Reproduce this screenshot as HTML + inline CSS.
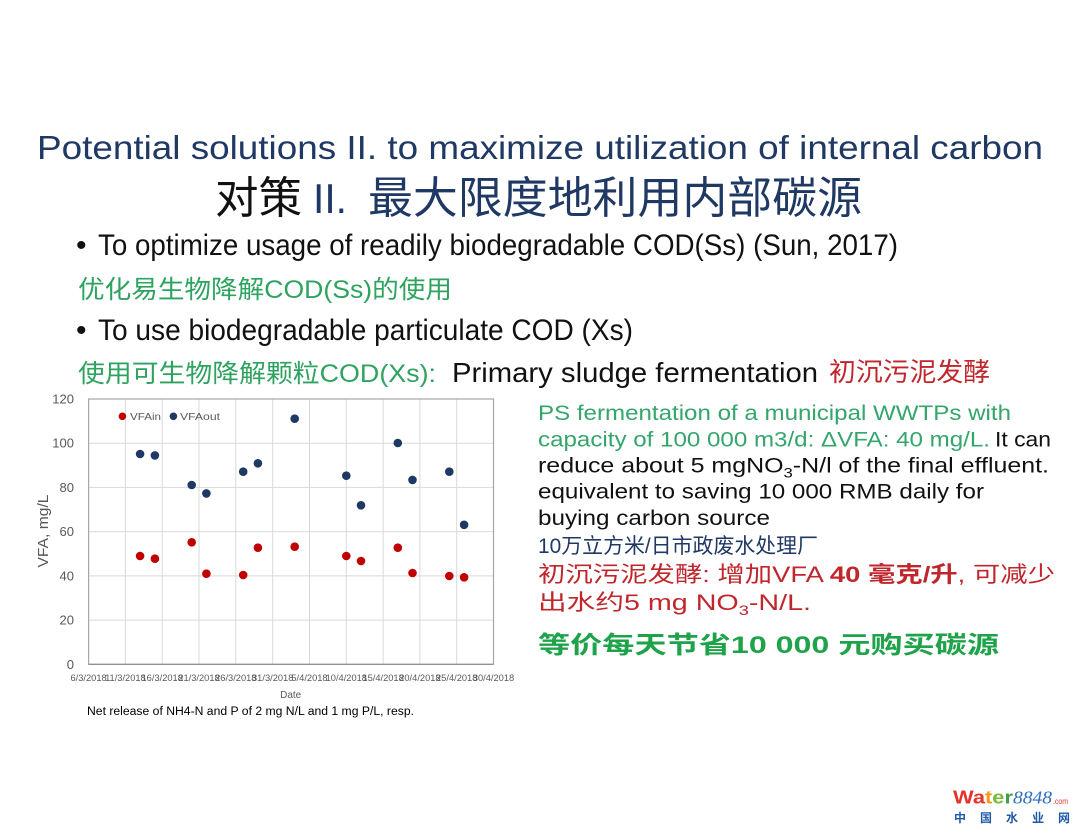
<!DOCTYPE html>
<html>
<head>
<meta charset="utf-8">
<style>
html,body{margin:0;padding:0;background:#fff;}
body{width:1080px;height:834px;overflow:hidden;}
svg{display:block;}
text{font-family:"Liberation Sans","Noto Sans CJK SC",sans-serif;}
</style>
</head>
<body>
<svg width="1080" height="834" viewBox="0 0 1080 834" xmlns="http://www.w3.org/2000/svg">
<rect x="0" y="0" width="1080" height="834" fill="#ffffff"/>

<!-- Title -->
<text x="37" y="159" font-size="33" fill="#1F3864" textLength="1006" lengthAdjust="spacingAndGlyphs">Potential solutions II. to maximize utilization of internal carbon</text>
<text x="215" y="213" font-size="44" fill="#111111" textLength="87" lengthAdjust="spacingAndGlyphs">对策</text>
<text x="313" y="213" font-size="42" fill="#1F3864" textLength="34" lengthAdjust="spacingAndGlyphs">II.</text>
<text x="368" y="213" font-size="44" fill="#1F3864" textLength="494" lengthAdjust="spacingAndGlyphs">最大限度地利用内部碳源</text>

<!-- Bullets -->
<text x="76" y="255" font-size="30" fill="#111">•</text>
<text x="98" y="255" font-size="30" fill="#111" textLength="800" lengthAdjust="spacingAndGlyphs">To optimize usage of readily biodegradable COD(Ss) (Sun, 2017)</text>
<text x="78" y="298" font-size="25" fill="#2EA35F" textLength="374" lengthAdjust="spacingAndGlyphs">优化易生物降解COD(Ss)的使用</text>
<text x="76" y="340" font-size="30" fill="#111">•</text>
<text x="98" y="340" font-size="30" fill="#111" textLength="535" lengthAdjust="spacingAndGlyphs">To use biodegradable particulate COD (Xs)</text>
<text x="78" y="382" font-size="25" fill="#2EA35F" textLength="358" lengthAdjust="spacingAndGlyphs">使用可生物降解颗粒COD(Xs):</text>
<text x="452" y="382" font-size="28" fill="#111" textLength="366" lengthAdjust="spacingAndGlyphs">Primary sludge fermentation</text>
<text x="829" y="381" font-size="26" fill="#C0272D" textLength="161" lengthAdjust="spacingAndGlyphs">初沉污泥发酵</text>

<!-- Chart gridlines -->
<g stroke="#D9D9D9" stroke-width="1">
  <line x1="88.6" y1="443.2" x2="493.5" y2="443.2"/>
  <line x1="88.6" y1="487.4" x2="493.5" y2="487.4"/>
  <line x1="88.6" y1="531.6" x2="493.5" y2="531.6"/>
  <line x1="88.6" y1="575.9" x2="493.5" y2="575.9"/>
  <line x1="88.6" y1="620.1" x2="493.5" y2="620.1"/>
  <line x1="125.4" y1="399" x2="125.4" y2="664.3"/>
  <line x1="162.2" y1="399" x2="162.2" y2="664.3"/>
  <line x1="199.0" y1="399" x2="199.0" y2="664.3"/>
  <line x1="235.8" y1="399" x2="235.8" y2="664.3"/>
  <line x1="272.7" y1="399" x2="272.7" y2="664.3"/>
  <line x1="309.5" y1="399" x2="309.5" y2="664.3"/>
  <line x1="346.3" y1="399" x2="346.3" y2="664.3"/>
  <line x1="383.1" y1="399" x2="383.1" y2="664.3"/>
  <line x1="419.9" y1="399" x2="419.9" y2="664.3"/>
  <line x1="456.7" y1="399" x2="456.7" y2="664.3"/>
</g>
<rect x="88.6" y="399" width="404.9" height="265.3" fill="none" stroke="#A6A6A6" stroke-width="1.2"/>
<line x1="88.6" y1="664.3" x2="493.5" y2="664.3" stroke="#8C8C8C" stroke-width="1.2"/>

<!-- Y ticks -->
<g font-size="13" fill="#595959" text-anchor="end">
  <text x="74" y="403.5">120</text>
  <text x="74" y="447.7">100</text>
  <text x="74" y="491.9">80</text>
  <text x="74" y="536.1">60</text>
  <text x="74" y="580.4">40</text>
  <text x="74" y="624.6">20</text>
  <text x="74" y="668.8">0</text>
</g>
<text transform="translate(48,531) rotate(-90)" font-size="15" fill="#595959" text-anchor="middle" textLength="73" lengthAdjust="spacingAndGlyphs">VFA, mg/L</text>

<!-- X ticks -->
<g font-size="9.3" fill="#595959" text-anchor="middle">
  <text x="88.6" y="681">6/3/2018</text>
  <text x="125.4" y="681">11/3/2018</text>
  <text x="162.2" y="681">16/3/2018</text>
  <text x="199.0" y="681">21/3/2018</text>
  <text x="235.8" y="681">26/3/2018</text>
  <text x="272.7" y="681">31/3/2018</text>
  <text x="309.5" y="681">5/4/2018</text>
  <text x="346.3" y="681">10/4/2018</text>
  <text x="383.1" y="681">15/4/2018</text>
  <text x="419.9" y="681">20/4/2018</text>
  <text x="456.7" y="681">25/4/2018</text>
  <text x="493.5" y="681">30/4/2018</text>
</g>
<text x="290.7" y="698" font-size="10" fill="#595959" text-anchor="middle">Date</text>
<text x="87" y="715" font-size="11.5" fill="#000" textLength="327" lengthAdjust="spacingAndGlyphs">Net release of NH4-N and P of 2 mg N/L and 1 mg P/L, resp.</text>

<!-- Legend -->
<circle cx="122.4" cy="416.3" r="3.8" fill="#C00000"/>
<text x="130" y="420" font-size="10" fill="#595959" textLength="31" lengthAdjust="spacingAndGlyphs">VFAin</text>
<circle cx="173.4" cy="416.3" r="3.8" fill="#1F3864"/>
<text x="180" y="420" font-size="10" fill="#595959" textLength="40" lengthAdjust="spacingAndGlyphs">VFAout</text>

<!-- VFAout series -->
<g fill="#1F3864">
  <circle cx="140.1" cy="454.0" r="4.3"/>
  <circle cx="154.9" cy="455.4" r="4.3"/>
  <circle cx="191.7" cy="485.0" r="4.3"/>
  <circle cx="206.4" cy="493.4" r="4.3"/>
  <circle cx="243.2" cy="471.7" r="4.3"/>
  <circle cx="257.9" cy="463.3" r="4.3"/>
  <circle cx="294.7" cy="418.7" r="4.3"/>
  <circle cx="346.3" cy="475.7" r="4.3"/>
  <circle cx="361.0" cy="505.3" r="4.3"/>
  <circle cx="397.8" cy="443.0" r="4.3"/>
  <circle cx="412.5" cy="479.9" r="4.3"/>
  <circle cx="449.3" cy="471.7" r="4.3"/>
  <circle cx="464.1" cy="524.8" r="4.3"/>
</g>
<!-- VFAin series -->
<g fill="#C00000">
  <circle cx="140.1" cy="556.0" r="4.3"/>
  <circle cx="154.9" cy="558.7" r="4.3"/>
  <circle cx="191.7" cy="542.3" r="4.3"/>
  <circle cx="206.4" cy="573.7" r="4.3"/>
  <circle cx="243.2" cy="575.0" r="4.3"/>
  <circle cx="257.9" cy="547.7" r="4.3"/>
  <circle cx="294.7" cy="546.7" r="4.3"/>
  <circle cx="346.3" cy="556.0" r="4.3"/>
  <circle cx="361.0" cy="561.0" r="4.3"/>
  <circle cx="397.8" cy="547.7" r="4.3"/>
  <circle cx="412.5" cy="573.0" r="4.3"/>
  <circle cx="449.3" cy="576.0" r="4.3"/>
  <circle cx="464.1" cy="577.3" r="4.3"/>
</g>

<!-- Right text block -->
<text x="538" y="420" font-size="21" fill="#34A56B" textLength="473" lengthAdjust="spacingAndGlyphs">PS fermentation of a municipal WWTPs with</text>
<text x="538" y="446.5" font-size="21" fill="#34A56B" textLength="452" lengthAdjust="spacingAndGlyphs">capacity of 100 000 m3/d: ΔVFA: 40 mg/L.</text>
<text x="995" y="446.5" font-size="21" fill="#111" textLength="56" lengthAdjust="spacingAndGlyphs">It can</text>
<text x="538" y="472.5" font-size="21" fill="#111" textLength="511" lengthAdjust="spacingAndGlyphs">reduce about 5 mgNO<tspan font-size="14" dy="5">3</tspan><tspan dy="-5">-N/l of the final effluent.</tspan></text>
<text x="538" y="498.5" font-size="21" fill="#111" textLength="446" lengthAdjust="spacingAndGlyphs">equivalent to saving 10 000 RMB daily for</text>
<text x="538" y="525" font-size="21" fill="#111" textLength="232" lengthAdjust="spacingAndGlyphs">buying carbon source</text>
<text x="538" y="553" font-size="21" fill="#203864" textLength="280" lengthAdjust="spacingAndGlyphs">10万立方米/日市政废水处理厂</text>
<text x="538" y="582" font-size="22" fill="#C0272D" textLength="517" lengthAdjust="spacingAndGlyphs">初沉污泥发酵: 增加VFA <tspan font-weight="bold">40 毫克/升</tspan>, 可减少</text>
<text x="538" y="610" font-size="22" fill="#C0272D" textLength="273" lengthAdjust="spacingAndGlyphs">出水约5 mg NO<tspan font-size="14" dy="5">3</tspan><tspan dy="-5">-N/L.</tspan></text>
<text x="538" y="653" font-size="24" font-weight="bold" fill="#1EA34A" textLength="461" lengthAdjust="spacingAndGlyphs">等价每天节省10 000 元购买碳源</text>

<!-- Logo -->
<text x="953" y="803.5" font-size="18" font-weight="bold" textLength="60" lengthAdjust="spacingAndGlyphs"><tspan fill="#E5322D">Wa</tspan><tspan fill="#F39A1E">t</tspan><tspan fill="#7DB93A">e</tspan><tspan fill="#3E9F48">r</tspan></text>
<text x="1013" y="803.5" font-size="18" font-style="italic" fill="#2A6EBB" style="font-family:'Liberation Serif',serif" textLength="39" lengthAdjust="spacingAndGlyphs">8848</text>
<text x="1053" y="804" font-size="8" fill="#E5322D" textLength="15" lengthAdjust="spacingAndGlyphs">.com</text>
<text x="954" y="822" font-size="12" font-weight="bold" fill="#1E5AA8" textLength="116" lengthAdjust="spacing">中国水业网</text>
</svg>
</body>
</html>
